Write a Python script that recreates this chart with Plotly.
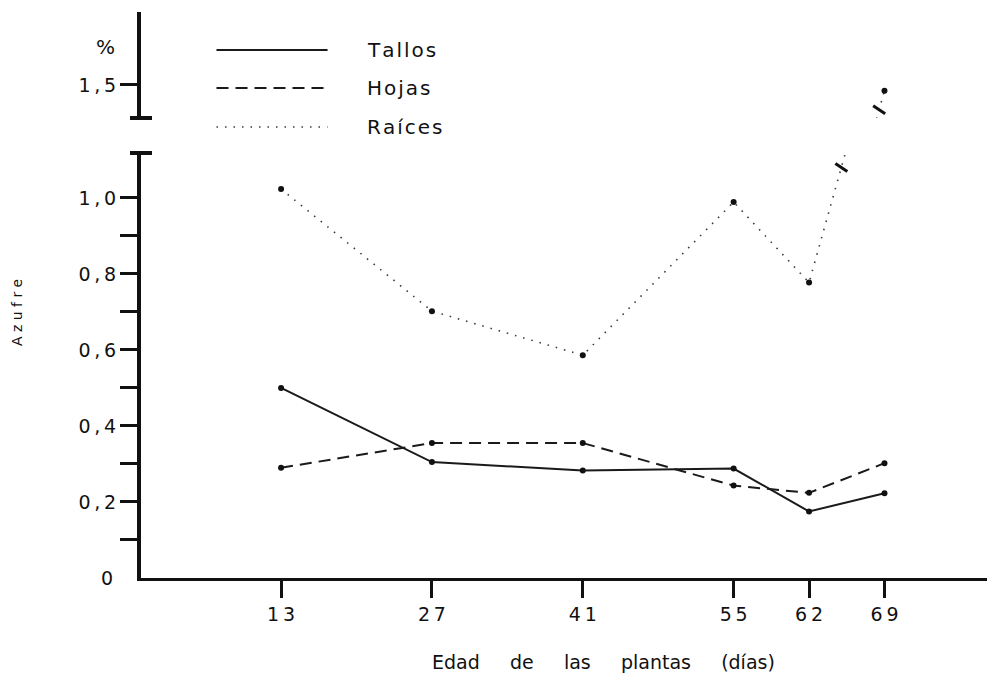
import plotly.graph_objects as go

# ---- data ----
dias = [13, 27, 41, 55, 62, 69]
tallos = [0.50, 0.305, 0.283, 0.288, 0.175, 0.223]
hojas = [0.29, 0.355, 0.355, 0.243, 0.224, 0.302]
raices = [1.023, 0.702, 0.586, 0.989, 0.777, 1.485]

series = [
    ("Tallos", tallos, dict(color="#1a1a1a", width=2, dash="solid")),
    ("Hojas", hojas, dict(color="#1a1a1a", width=2, dash="12px,7px")),
    ("Raíces", raices, dict(color="#3a3a3a", width=1.6, dash="1.5px,7px")),
]

y_ticks_major = [0.2, 0.4, 0.6, 0.8, 1.0]
y_ticks_minor = [0.1, 0.3, 0.5, 0.7, 0.9]
y2_ticks = [1.5]

def fmt(v):
    return f"{v:.1f}".replace(".", ",")

FONT = "DejaVu Sans"
INK = "#111111"
thin = "\u2009"
hair = "\u200a"
nb = "\u00a0"

def spaced(s, sep=thin):
    return sep.join(s)

lower_range = [0, 1.118]
upper_range = [1.413, 1.692]

fig = go.Figure()

# lower panel: all series
for name, vals, ln in series:
    fig.add_trace(go.Scatter(
        x=dias, y=vals, mode="lines+markers", name=name,
        line=ln, marker=dict(size=6, color=INK),
        xaxis="x", yaxis="y", showlegend=False, cliponaxis=True))

# upper panel (broken axis): the series that exceeds the lower range
for name, vals, ln in series:
    if max(vals) > lower_range[1]:
        fig.add_trace(go.Scatter(
            x=dias, y=vals, mode="lines+markers", name=name,
            line=ln, marker=dict(size=6, color=INK),
            xaxis="x", yaxis="y2", showlegend=False, cliponaxis=True))

axis_common = dict(
    showline=True, linecolor=INK, showgrid=False, zeroline=False,
    ticks="outside", tickcolor=INK, tickwidth=3, ticklen=17,
    tickfont=dict(family=FONT, size=19, color=INK),
)

fig.update_layout(
    width=995, height=683,
    margin=dict(l=133, r=0, t=4, b=113),
    paper_bgcolor="white", plot_bgcolor="white",
    xaxis=dict(
        **axis_common, linewidth=3, range=[0, 80.0],
        tickmode="array", tickvals=dias, ticktext=[spaced(str(d)) for d in dias],
        anchor="y",
    ),
    yaxis=dict(
        **axis_common, linewidth=4, range=lower_range, domain=[0, 0.7509],
        tickmode="array", tickvals=y_ticks_major,
        ticktext=[spaced(fmt(v)) for v in y_ticks_major],
        minor=dict(tickmode="array", tickvals=y_ticks_minor, ticks="outside",
                   ticklen=17, tickwidth=3, tickcolor=INK, showgrid=False),
        anchor="x",
    ),
    yaxis2=dict(
        **axis_common, linewidth=4, range=upper_range, domain=[0.8127, 1],
        tickmode="array", tickvals=y2_ticks,
        ticktext=[spaced(fmt(v)) for v in y2_ticks],
        anchor="x",
    ),
    showlegend=False,
)

# end caps of the broken axis
fig.add_shape(type="line", xref="paper", yref="y domain", xsizemode="pixel",
              xanchor=0, x0=-11, x1=11, y0=1, y1=1,
              line=dict(color=INK, width=4))
fig.add_shape(type="line", xref="paper", yref="y2 domain", xsizemode="pixel",
              xanchor=0, x0=-11, x1=11, y0=0, y1=0,
              line=dict(color=INK, width=4))

# break marks on the line that crosses the axis break
d0, d1 = dias[-2], dias[-1]
r0, r1 = raices[-2], raices[-1]
for yref, yv in (("y", 1.08), ("y2", 1.435)):
    xd = d0 + (yv - r0) / (r1 - r0) * (d1 - d0)
    fig.add_shape(type="line", xref="x", yref=yref,
                  xsizemode="pixel", ysizemode="pixel",
                  xanchor=xd, yanchor=yv, x0=-6, x1=6, y0=4, y1=-4,
                  line=dict(color=INK, width=3))

# "0" label at the origin and "%" unit label
fig.add_annotation(text="0", xref="paper", yref="y", x=0, y=0,
                   xanchor="right", yanchor="middle", xshift=-26, showarrow=False,
                   font=dict(family=FONT, size=19, color=INK))
fig.add_annotation(text="%", xref="paper", yref="y2", x=0, y=1.6,
                   xanchor="right", yanchor="middle", xshift=-24, showarrow=False,
                   font=dict(family=FONT, size=20, color=INK))

# legend drawn as line samples + labels
leg_y = [0.9329, 0.8657, 0.7968]
for (name, vals, ln), yy in zip(series, leg_y):
    lw = ln["width"] if ln["dash"] != "solid" else 1.8
    fig.add_shape(type="line", xref="paper", yref="paper",
                  x0=0.0876, x1=0.2164, y0=yy, y1=yy,
                  line=dict(color=ln["color"], width=lw, dash=ln["dash"]))
    fig.add_annotation(text=spaced(name, hair), xref="paper", yref="paper",
                       x=0.2599, y=yy, xanchor="left", yanchor="middle",
                       showarrow=False, font=dict(family=FONT, size=20, color=INK))

# axis titles
gap = nb * 5
title_words = ["Edad", "de", "las", "plantas", "(días)"]
fig.add_annotation(
    text=gap.join(title_words),
    xref="paper", yref="paper", x=0.537, y=0, yshift=-84,
    xanchor="center", yanchor="middle", showarrow=False,
    font=dict(family=FONT, size=19, color=INK))
fig.add_annotation(
    text=nb.join("Azufre"), xref="paper", yref="paper", x=0, y=0.468,
    xshift=-124, xanchor="center", yanchor="middle", textangle=-90,
    showarrow=False, font=dict(family=FONT, size=14, color=INK))

fig.write_html("out.html")
